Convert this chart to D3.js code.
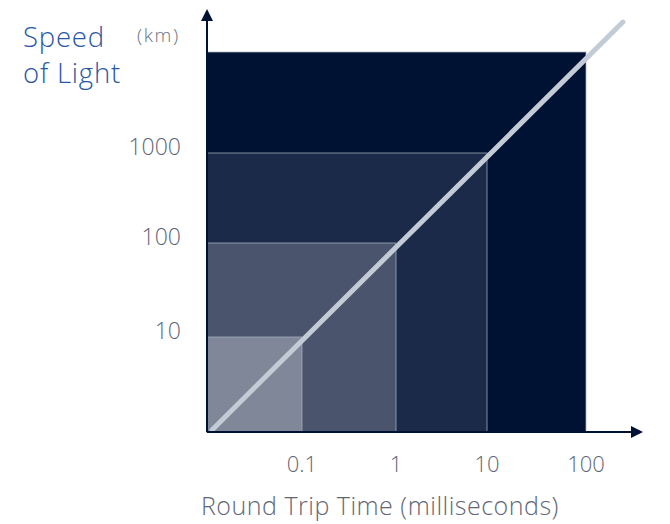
<!DOCTYPE html>
<meta charset="utf-8">
<script src="https://cdn.jsdelivr.net/npm/d3@7"></script>
<style>
  body { margin: 0; background: #fff; }
  text { font-family: "Open Sans", sans-serif; font-weight: 300; }
</style>
<body>
<script>

var width = 670
var height = 524

// chart values
var msTicks = [0.1, 1, 10, 100]
var kmTicks = [10, 100, 1000]
var squareMs = [100, 10, 1, 0.1]
var squareKm = [10000, 1000, 100, 10]
var squareFill = ["#001233", "#1c2a4a", "#4a556d", "#7f8798"]
var lineMs = [0.0113, 236]
var lineKm = [1.05, 19800]

// decades are not evenly spaced in the picture, so piecewise log scales
var x = d3.scaleLog().domain([0.01, 0.1, 1, 10, 100]).range([207, 302, 396, 487, 586]);
var y = d3.scaleLog().domain([1, 10, 100, 1000, 10000]).range([432, 337, 243, 153, 52]);

var svg = d3.select("body").append("svg")
            .attr("width", width)
            .attr("height", height);

var defs = svg.append("defs")
defs.append("marker")
    .attr("id", "arrow")
    .attr("viewBox", "0 0 12 12")
    .attr("refX", 1).attr("refY", 6)
    .attr("markerWidth", 12).attr("markerHeight", 12)
    .attr("markerUnits", "userSpaceOnUse")
    .attr("orient", "auto")
  .append("path")
    .attr("d", "M0,0L12,6L0,12Z")
    .attr("fill", "#001233");

// nested squares
svg.append("g").attr("id", "squares")
   .selectAll("rect")
   .data(squareMs)
   .enter().append("rect")
   .attr("x", x(0.01))
   .attr("y", function(d, i) { return y(squareKm[i]); })
   .attr("width", function(d) { return x(d) - x(0.01); })
   .attr("height", function(d, i) { return y(1) - y(squareKm[i]); })
   .attr("fill", function(d, i) { return squareFill[i]; })
   .attr("stroke", "#a9b1bf")
   .attr("stroke-opacity", 0.75)
   .attr("stroke-width", 1);

// speed of light line
var line = d3.line().x(function(d, i) { return x(lineMs[i]); }).y(function(d, i) { return y(lineKm[i]); })
svg.append("path")
   .attr("d", line(lineMs))
   .attr("stroke", "#c3ccd6")
   .attr("stroke-width", 5)
   .attr("stroke-linecap", "round")
   .attr("fill", "none");

// axes with arrows
svg.append("line")
   .attr("x1", x(0.01)).attr("y1", y(1))
   .attr("x2", 632).attr("y2", y(1))
   .attr("stroke", "#001233").attr("stroke-width", 2)
   .attr("marker-end", "url(#arrow)");

svg.append("line")
   .attr("x1", x(0.01)).attr("y1", y(1))
   .attr("x2", x(0.01)).attr("y2", 20)
   .attr("stroke", "#001233").attr("stroke-width", 2)
   .attr("marker-end", "url(#arrow)");

// tick labels
svg.append("g").selectAll("text")
   .data(msTicks)
   .enter().append("text")
   .attr("x", function(d) { return x(d); })
   .attr("y", 472)
   .attr("text-anchor", "middle")
   .attr("fill", "#5f6777")
   .style("font-size", "22px")
   .text(function(d) { return d; });

svg.append("g").selectAll("text")
   .data(kmTicks)
   .enter().append("text")
   .attr("x", 181)
   .attr("y", function(d) { return y(d) + 2; })
   .attr("text-anchor", "end")
   .attr("fill", "#5f6777")
   .style("font-size", "23px")
   .text(function(d) { return d; });

// titles
svg.append("text")
   .attr("x", 201).attr("y", 515)
   .attr("fill", "#5f6777")
   .style("font-size", "25px")
   .style("letter-spacing", "0.5px")
   .text("Round Trip Time (milliseconds)");

svg.append("text")
   .attr("x", 23).attr("y", 47)
   .attr("fill", "#2a58a3")
   .style("font-size", "27.5px")
   .style("letter-spacing", "0.8px")
   .text("Speed");

svg.append("text")
   .attr("x", 23).attr("y", 83)
   .attr("fill", "#2a58a3")
   .style("font-size", "27.5px")
   .style("letter-spacing", "0.8px")
   .text("of Light");

svg.append("text")
   .attr("x", 137).attr("y", 42)
   .attr("fill", "#6b7383")
   .style("font-size", "19px")
   .style("letter-spacing", "1.6px")
   .text("(km)");

</script>
</body>
